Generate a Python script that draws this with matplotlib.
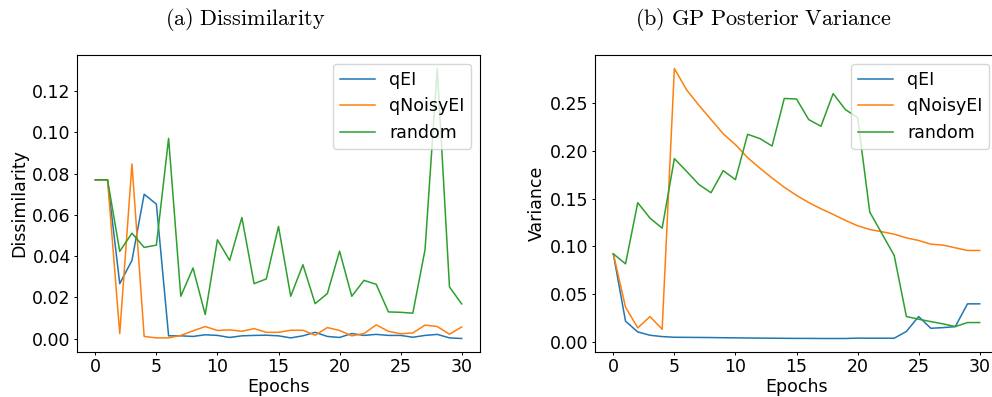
import numpy as np
import matplotlib
matplotlib.use("Agg")
import matplotlib.pyplot as plt

epochs = list(range(31))

# (a) dissimilarity per epoch
dis_qei = [0.077, 0.077, 0.0266, 0.0379, 0.0700, 0.0652, 0.0013, 0.0013, 0.0010, 0.0018,
           0.0015, 0.0005, 0.0013, 0.0015, 0.0016, 0.0013, 0.0003, 0.0013, 0.0030, 0.0010,
           0.0005, 0.0024, 0.0015, 0.0020, 0.0015, 0.0015, 0.0006, 0.0015, 0.0020, 0.0003, 0.0000]
dis_qnoisy = [0.077, 0.077, 0.0024, 0.0847, 0.0010, 0.0003, 0.0003, 0.0015, 0.0037, 0.0058,
              0.0039, 0.0042, 0.0035, 0.0048, 0.0030, 0.0030, 0.0040, 0.0040, 0.0016, 0.0053,
              0.0039, 0.0013, 0.0024, 0.0066, 0.0035, 0.0023, 0.0027, 0.0065, 0.0058, 0.0021, 0.0056]
dis_random = [0.077, 0.077, 0.0423, 0.0511, 0.0442, 0.0453, 0.0971, 0.0205, 0.0342, 0.0116,
              0.0479, 0.0379, 0.0587, 0.0266, 0.0289, 0.0544, 0.0205, 0.0358, 0.0169, 0.0218,
              0.0424, 0.0205, 0.0282, 0.0263, 0.0129, 0.0127, 0.0123, 0.0431, 0.1310, 0.0250, 0.0168]

# (b) GP posterior variance per epoch
var_qei = [0.0923, 0.0217, 0.0105, 0.0070, 0.0056, 0.0049, 0.0048, 0.0047, 0.0046, 0.0044,
           0.0043, 0.0041, 0.0040, 0.0039, 0.0038, 0.0037, 0.0037, 0.0036, 0.0036, 0.0036,
           0.0040, 0.0039, 0.0039, 0.0039, 0.0110, 0.0266, 0.0143, 0.0150, 0.0160, 0.0399, 0.0399]
var_qnoisy = [0.0923, 0.0364, 0.0147, 0.0266, 0.0133, 0.2864, 0.2640, 0.2480, 0.2330, 0.2180,
              0.2066, 0.1930, 0.1820, 0.1717, 0.1620, 0.1535, 0.1460, 0.1395, 0.1336, 0.1273,
              0.1217, 0.1178, 0.1154, 0.1129, 0.1090, 0.1063, 0.1024, 0.1014, 0.0986, 0.0958, 0.0958]
var_random = [0.0923, 0.0818, 0.1458, 0.1297, 0.1192, 0.1920, 0.1787, 0.1650, 0.1563, 0.1794,
              0.1700, 0.2175, 0.2130, 0.2052, 0.2550, 0.2545, 0.2329, 0.2259, 0.2601, 0.2434,
              0.2350, 0.1360, 0.1133, 0.0906, 0.0266, 0.0238, 0.0213, 0.0189, 0.0161, 0.0203, 0.0203]

labels = ["qEI", "qNoisyEI", "random"]

plt.rcParams["font.size"] = 12.5
plt.rcParams["mathtext.fontset"] = "cm"
# the original looks like a bigger figure shrunk down, so ticks are short
plt.rcParams["xtick.major.size"] = 2.5
plt.rcParams["ytick.major.size"] = 2.5
plt.rcParams["xtick.major.pad"] = 1.5
plt.rcParams["ytick.major.pad"] = 2.0
plt.rcParams["xtick.major.width"] = 0.7
plt.rcParams["ytick.major.width"] = 0.7
plt.rcParams["axes.linewidth"] = 0.8

fig = plt.figure(figsize=(9.92, 3.97), dpi=100)
ax1 = fig.add_axes([77 / 992, 1 - 352 / 397, 403 / 992, 297 / 397])
ax2 = fig.add_axes([595 / 992, 1 - 352 / 397, 403 / 992, 297 / 397])

for ys, lab in zip([dis_qei, dis_qnoisy, dis_random], labels):
    ax1.plot(epochs, ys, label=lab, lw=1.1)
ax1.set_xlabel("Epochs")
ax1.set_ylabel("Dissimilarity")
ax1.set_yticks(np.arange(0, 0.121, 0.02))
ax1.set_xticks(range(0, 31, 5))
ax1.legend(loc="upper right")

for ys, lab in zip([var_qei, var_qnoisy, var_random], labels):
    ax2.plot(epochs, ys, label=lab, lw=1.1)
ax2.set_xlabel("Epochs")
ax2.set_ylabel("Variance")
ax2.set_yticks(np.arange(0, 0.251, 0.05))
ax2.set_xticks(range(0, 31, 5))
ax2.legend(loc="upper right")

for ax in (ax1, ax2):
    ax.xaxis.set_label_coords(0.5, -0.088)
    ax.yaxis.set_label_coords(-0.122, 0.5)

fig.text(245 / 992, 0.952, r"$\mathrm{(a)\ Dissimilarity}$", ha="center", va="center", fontsize=16)
fig.text(763 / 992, 0.952, r"$\mathrm{(b)\ GP\ Posterior\ Variance}$", ha="center", va="center", fontsize=16)

fig.savefig("out.png", dpi=100)
